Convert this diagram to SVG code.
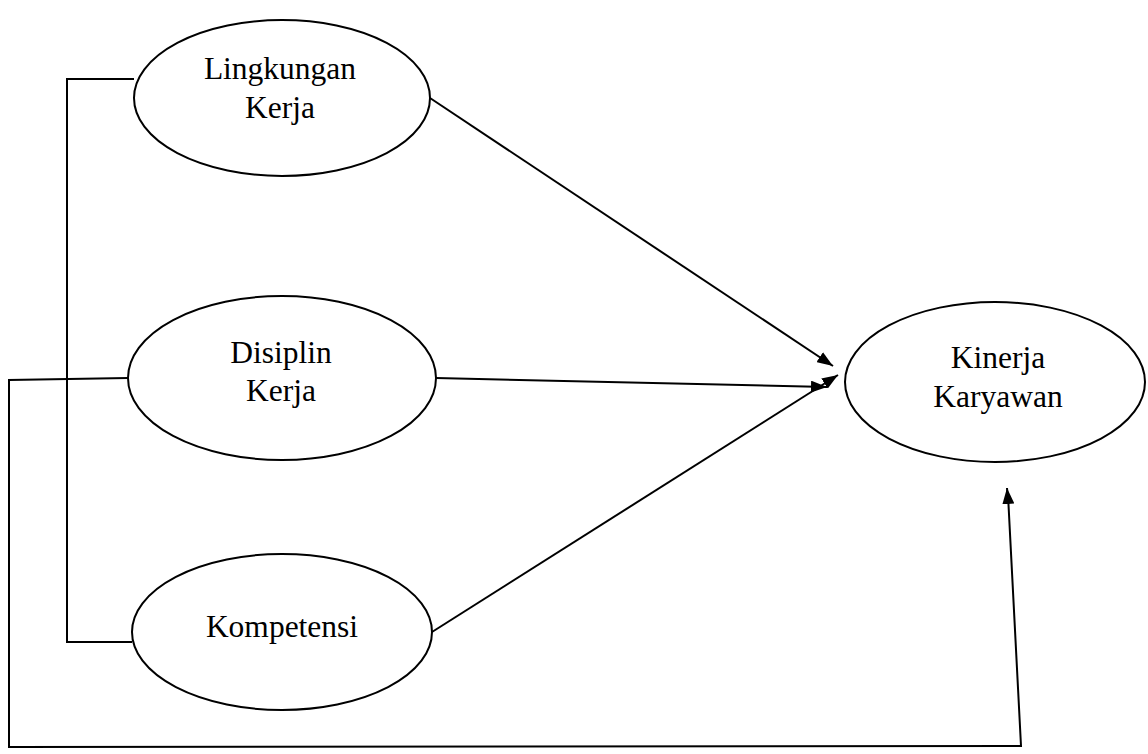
<svg xmlns="http://www.w3.org/2000/svg" width="1148" height="754" viewBox="0 0 1148 754">
<style>
.n{fill:#fff;stroke:#000;stroke-width:2}
.t{font-family:"Liberation Serif",serif;font-size:31.5px;fill:#000;text-anchor:middle}
.c{fill:none;stroke:#000;stroke-width:2}
</style>
<defs>
<marker id="a" viewBox="0 0 16 12" refX="16" refY="6" markerWidth="16" markerHeight="12" markerUnits="userSpaceOnUse" orient="auto">
<path d="M0,0 L16,6 L0,12 z" fill="#000"/>
</marker>
</defs>
<rect width="1148" height="754" fill="#fff"/>
<g id="connectors">
<polyline class="c" points="134,79 67,79 67,642 132,642"/>
<polyline class="c" points="128,378 9,380 9,747 1021,746 1008,495"/>
<path class="c" d="M1008,500 L1007,488" marker-end="url(#a)"/>
<line class="c" x1="430" y1="98" x2="833" y2="366" marker-end="url(#a)"/>
<line class="c" x1="436" y1="378" x2="827" y2="387" marker-end="url(#a)"/>
<line class="c" x1="432" y1="632" x2="838" y2="375" marker-end="url(#a)"/>
</g>
<g id="lingkungan">
<ellipse class="n" cx="282" cy="98" rx="148" ry="78"/>
<text class="t" x="280" y="79">Lingkungan</text>
<text class="t" x="280" y="118">Kerja</text>
</g>
<g id="disiplin">
<ellipse class="n" cx="282" cy="378" rx="154" ry="82"/>
<text class="t" x="281" y="363">Disiplin</text>
<text class="t" x="281" y="401">Kerja</text>
</g>
<g id="kompetensi">
<ellipse class="n" cx="282" cy="632" rx="150" ry="78"/>
<text class="t" x="282" y="637">Kompetensi</text>
</g>
<g id="kinerja">
<ellipse class="n" cx="995" cy="382" rx="150" ry="80"/>
<text class="t" x="998" y="368">Kinerja</text>
<text class="t" x="998" y="407">Karyawan</text>
</g>
</svg>
